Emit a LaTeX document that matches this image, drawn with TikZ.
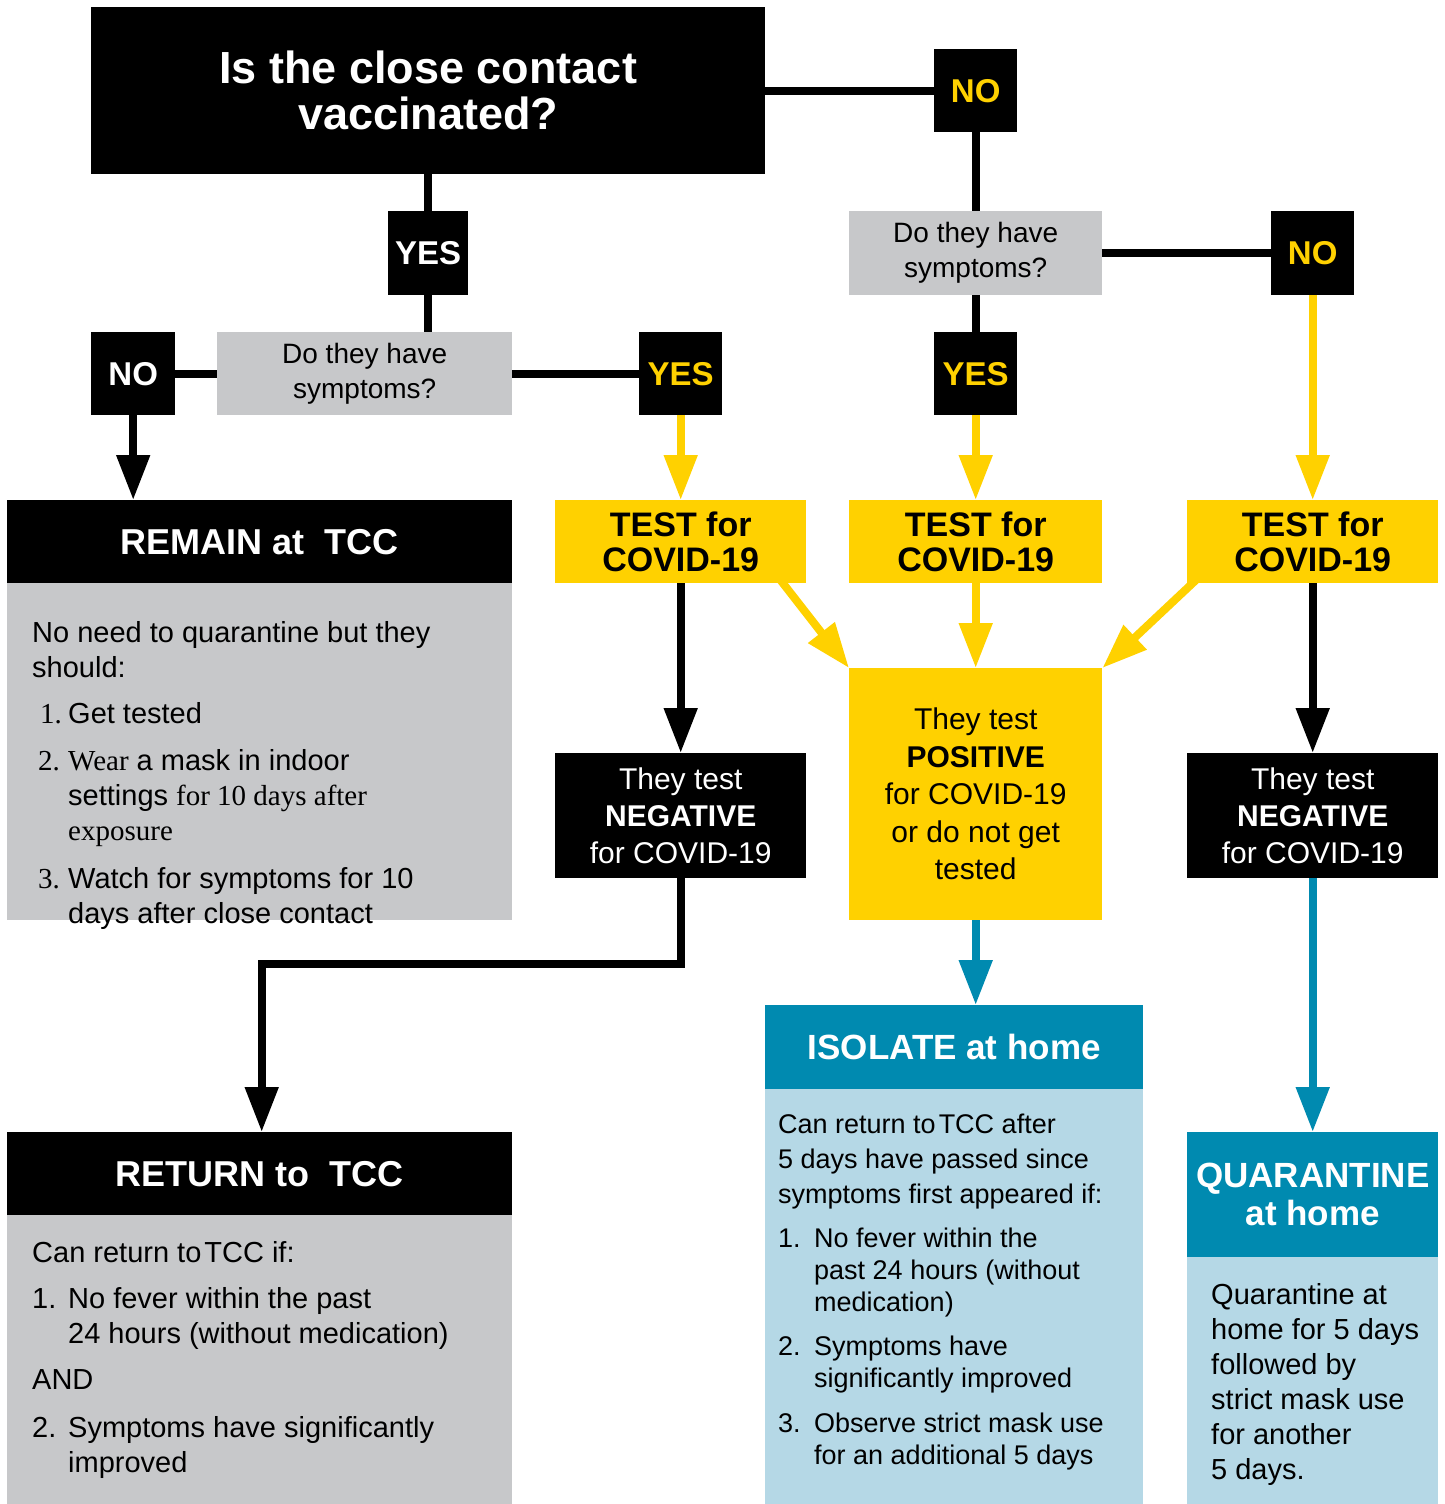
\documentclass[tikz,border=0pt]{standalone}
\usepackage{fontspec}
\setmainfont{Liberation Sans}
\newfontfamily\serifpart{Liberation Serif}
\usepackage{xcolor}
\usepackage{tikz}
\usetikzlibrary{arrows.meta,calc,backgrounds}
\definecolor{tccyellow}{HTML}{FFD100}
\definecolor{tccgray}{HTML}{C7C8CA}
\definecolor{tccteal}{HTML}{008AB0}
\definecolor{tccblue}{HTML}{B5D8E6}
\newcommand{\fsz}[2]{\fontsize{#1}{#2}\selectfont}

\begin{document}
\begin{tikzpicture}[x=1pt, y=-1pt,
    box/.style={rectangle, inner sep=0pt, anchor=north west, align=center},
    answer/.style={box, fill=black, minimum width=83pt, minimum height=83pt, font=\fsz{33}{36}\bfseries},
    question/.style={box, fill=tccgray, minimum width=253pt, minimum height=84pt, font=\fsz{28}{35}},
    testbox/.style={box, fill=tccyellow, minimum height=83pt, font=\fsz{34}{35}\bfseries},
    header/.style={box, fill=black, text=white, minimum width=505pt, minimum height=83pt, font=\fsz{36}{40}\bfseries},
    bluehead/.style={box, fill=tccteal, text=white, font=\fsz{35}{38}\bfseries},
    bodytext/.style={anchor=north west, inner sep=0pt, align=left, font=\fsz{29}{35}},
    link/.style={line width=8pt},
    blackarrow/.style={line width=8pt, -{Triangle[width=32pt,length=45pt]}},
    yellowarrow/.style={blackarrow, tccyellow},
    bluearrow/.style={blackarrow, tccteal}]
    \useasboundingbox (0,0) rectangle (1445,1504);

    \node (vacc) [box, fill=black, text=white, minimum width=674pt, minimum height=167pt, font=\fsz{45}{46}\bfseries] at (91,7) {Is the close contact\\vaccinated?};
    \node (novacc) [answer, text=tccyellow] at (934,49) {NO};
    \node (yesvacc) [answer, text=white, minimum width=80pt, minimum height=84pt] at (388,211) {YES};
    \node (symvacc) [question, minimum width=295pt, minimum height=83pt] at (217,332) {Do they have\\symptoms?};
    \node (symunvacc) [question] at (849,211) {Do they have\\symptoms?};
    \node (nosym1) [answer, text=white, minimum width=84pt] at (91,332) {NO};
    \node (yessym1) [answer, text=tccyellow] at (639,332) {YES};
    \node (yessym2) [answer, text=tccyellow] at (934,332) {YES};
    \node (nosym2) [answer, text=tccyellow, minimum height=84pt] at (1271,211) {NO};

    \node (remain) [header] at (7,500) {REMAIN at\ \ TCC};
    \node (remainbody) [box, fill=tccgray, minimum width=505pt, minimum height=337pt] at (7,583) {};
    \node (test1) [testbox, minimum width=251pt] at (555,500) {TEST for\\COVID-19};
    \node (test2) [testbox, minimum width=253pt] at (849,500) {TEST for\\COVID-19};
    \node (test3) [testbox, minimum width=251pt] at (1187,500) {TEST for\\COVID-19};
    \node (positive) [box, fill=tccyellow, minimum width=253pt, minimum height=252pt, font=\fsz{30}{37.5}] at (849,668) {They test\\\textbf{POSITIVE}\\for COVID-19\\or do not get\\tested};
    \node (negative1) [box, fill=black, text=white, minimum width=251pt, minimum height=125pt, font=\fsz{30}{37}] at (555,753) {They test\\\textbf{NEGATIVE}\\for COVID-19};
    \node (negative2) [box, fill=black, text=white, minimum width=251pt, minimum height=125pt, font=\fsz{30}{37}] at (1187,753) {They test\\\textbf{NEGATIVE}\\for COVID-19};

    \node (return) [header] at (7,1132) {RETURN to\ \ TCC};
    \node (returnbody) [box, fill=tccgray, minimum width=505pt, minimum height=289pt] at (7,1215) {};
    \node (isolate) [bluehead, minimum width=378pt, minimum height=84pt] at (765,1005) {ISOLATE at home};
    \node (isolatebody) [box, fill=tccblue, minimum width=378pt, minimum height=415pt] at (765,1089) {};
    \node (quarantine) [bluehead, minimum width=251pt, minimum height=125pt] at (1187,1132) {QUARANTINE\\at home};
    \node (quarantinebody) [box, fill=tccblue, minimum width=251pt, minimum height=247pt] at (1187,1257) {};

    \node (remaintext) [bodytext] at (32,621) {No need to quarantine but they\\
        should:\\[11pt]
        \makebox[36pt][l]{\hspace{8pt}\serifpart 1.}Get tested\\[12pt]
        \makebox[36pt][l]{\hspace{6pt}\serifpart 2.}{\serifpart Wear} a mask in indoor\\
        \makebox[36pt]{}settings {\serifpart for 10 days after}\\
        \makebox[36pt]{}{\serifpart exposure}\\[13pt]
        \makebox[36pt][l]{\hspace{6pt}\serifpart 3.}Watch for symptoms for 10\\
        \makebox[36pt]{}days after close contact};
    \node (returntext) [bodytext] at (32,1241) {Can return to\hspace{3pt}TCC if:\\[11pt]
        \makebox[36pt][l]{1.}No fever within the past\\
        \makebox[36pt]{}24 hours (without medication)\\[11pt]
        AND\\[13pt]
        \makebox[36pt][l]{2.}Symptoms have significantly\\
        \makebox[36pt]{}improved};
    \node (isolatetext) [bodytext, font=\fsz{27}{32}] at (778,1114) {Can return to\hspace{3pt}TCC after\\[3pt]
        5 days have passed since\\[3pt]
        symptoms first appeared if:\\[12pt]
        \makebox[36pt][l]{1.}No fever within the\\
        \makebox[36pt]{}past 24 hours (without\\
        \makebox[36pt]{}medication)\\[12pt]
        \makebox[36pt][l]{2.}Symptoms have\\
        \makebox[36pt]{}significantly improved\\[13pt]
        \makebox[36pt][l]{3.}Observe strict mask use\\
        \makebox[36pt]{}for an additional 5 days};
    \node (quarantinetext) [bodytext] at (1211,1283) {Quarantine at\\home for 5 days\\followed by\\strict mask use\\for another\\5 days.};

    \begin{scope}[on background layer]
        \draw[link] (vacc) -- (novacc);
        \draw[link] (vacc) -- (yesvacc);
        \draw[link] (yesvacc) -- (yesvacc |- symvacc.north);
        \draw[link] (novacc) -- (symunvacc);
        \draw[link] (symvacc) -- (nosym1);
        \draw[link] (symvacc) -- (yessym1);
        \draw[link] (symunvacc) -- (nosym2);
        \draw[link] (symunvacc) -- (yessym2);

        \draw[blackarrow] (nosym1) -- (nosym1.south |- remain.north);
        \draw[yellowarrow] (yessym1) -- (test1.north);
        \draw[yellowarrow] (yessym2) -- (test2.north);
        \draw[yellowarrow] (nosym2) -- (test3.north);

        \draw[blackarrow] (test1) -- (negative1.north);
        \draw[blackarrow] (test3) -- (negative2.north);
        \draw[yellowarrow] (test2) -- (positive.north);
        \draw[yellowarrow] ($(test1.south east)+(-35,-15)$) -- (positive.north west);
        \draw[yellowarrow] ($(test3.south west)+(16,-10)$) -- (positive.north east);

        \draw[blackarrow] (negative1) -- ++(0,148) -| ($(return.north)+(2,0)$);
        \draw[bluearrow] (positive) -- (positive.south |- isolate.north);
        \draw[bluearrow] (negative2) -- (quarantine.north);
    \end{scope}
\end{tikzpicture}
\end{document}
